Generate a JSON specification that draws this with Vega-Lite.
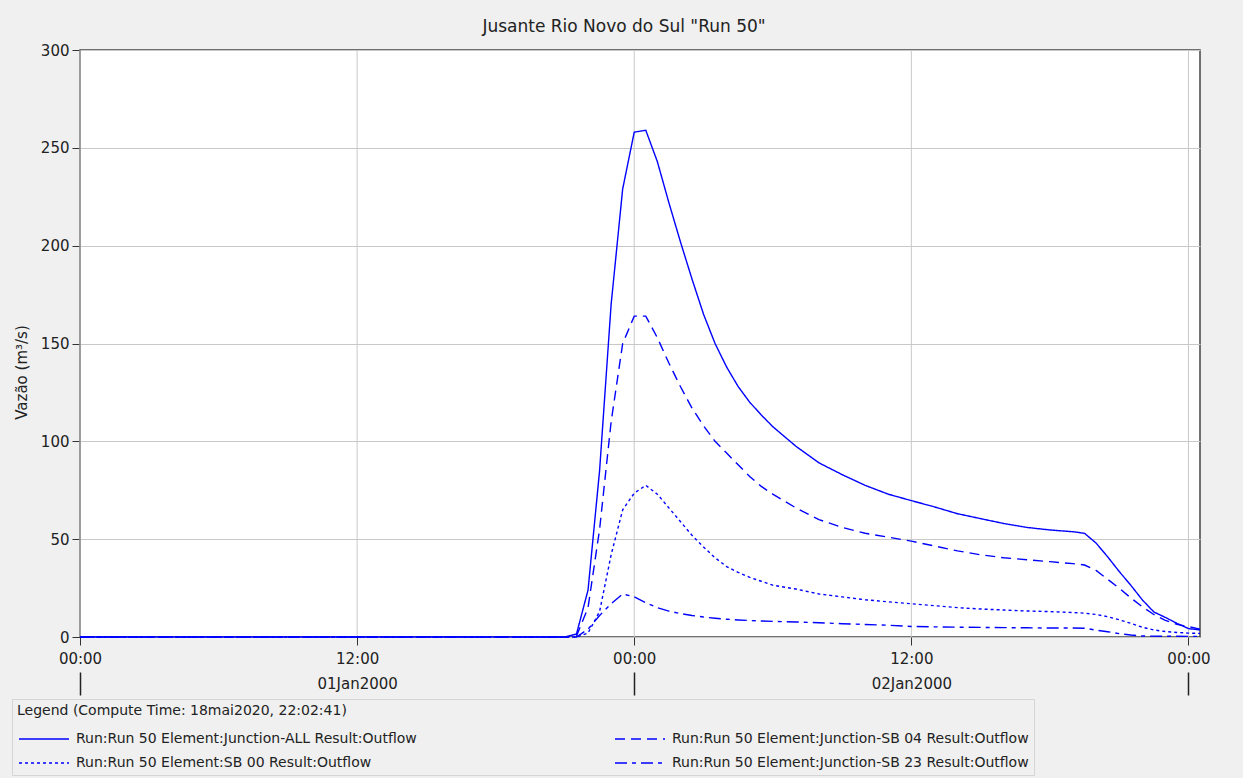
{
  "$schema": "https://vega.github.io/schema/vega-lite/v6.json",
  "width": 1120,
  "height": 587,
  "autosize": {"type": "none"},
  "padding": {"left": 80, "top": 50, "right": 43, "bottom": 141},
  "background": "#f0f0f0",
  "config": {
    "font": "DejaVu Sans",
    "view": {"fill": "white", "stroke": "#444", "strokeWidth": 1.5}
  },
  "title": {
    "text": "Jusante Rio Novo do Sul \"Run 50\"",
    "frame": "group",
    "anchor": "middle",
    "baseline": "alphabetic",
    "offset": 18,
    "dy": 24,
    "dx": -16,
    "font": "DejaVu Sans",
    "fontSize": 17,
    "fontWeight": "normal",
    "color": "#222"
  },
  "datasets": {
    "grid": [
      {"time": "2000-01-01T00:00:00Z"},
      {"time": "2000-01-01T12:00:00Z"},
      {"time": "2000-01-02T00:00:00Z"},
      {"time": "2000-01-02T12:00:00Z"},
      {"time": "2000-01-03T00:00:00Z"}
    ],
    "flow": [
      {"series": "Junction-ALL", "time": "2000-01-01T00:00:00Z", "flow": 0},
      {"series": "Junction-ALL", "time": "2000-01-01T21:00:00Z", "flow": 0},
      {"series": "Junction-ALL", "time": "2000-01-01T21:30:00Z", "flow": 1.5},
      {"series": "Junction-ALL", "time": "2000-01-01T22:00:00Z", "flow": 24},
      {"series": "Junction-ALL", "time": "2000-01-01T22:30:00Z", "flow": 85},
      {"series": "Junction-ALL", "time": "2000-01-01T23:00:00Z", "flow": 170},
      {"series": "Junction-ALL", "time": "2000-01-01T23:30:00Z", "flow": 229},
      {"series": "Junction-ALL", "time": "2000-01-02T00:00:00Z", "flow": 258},
      {"series": "Junction-ALL", "time": "2000-01-02T00:30:00Z", "flow": 259},
      {"series": "Junction-ALL", "time": "2000-01-02T01:00:00Z", "flow": 243},
      {"series": "Junction-ALL", "time": "2000-01-02T01:30:00Z", "flow": 222},
      {"series": "Junction-ALL", "time": "2000-01-02T02:00:00Z", "flow": 202},
      {"series": "Junction-ALL", "time": "2000-01-02T02:30:00Z", "flow": 183},
      {"series": "Junction-ALL", "time": "2000-01-02T03:00:00Z", "flow": 165},
      {"series": "Junction-ALL", "time": "2000-01-02T03:30:00Z", "flow": 150},
      {"series": "Junction-ALL", "time": "2000-01-02T04:00:00Z", "flow": 138},
      {"series": "Junction-ALL", "time": "2000-01-02T04:30:00Z", "flow": 128},
      {"series": "Junction-ALL", "time": "2000-01-02T05:00:00Z", "flow": 120},
      {"series": "Junction-ALL", "time": "2000-01-02T05:30:00Z", "flow": 113.5},
      {"series": "Junction-ALL", "time": "2000-01-02T06:00:00Z", "flow": 107.5},
      {"series": "Junction-ALL", "time": "2000-01-02T07:00:00Z", "flow": 97.5},
      {"series": "Junction-ALL", "time": "2000-01-02T08:00:00Z", "flow": 89},
      {"series": "Junction-ALL", "time": "2000-01-02T09:00:00Z", "flow": 83},
      {"series": "Junction-ALL", "time": "2000-01-02T10:00:00Z", "flow": 77.5},
      {"series": "Junction-ALL", "time": "2000-01-02T11:00:00Z", "flow": 73},
      {"series": "Junction-ALL", "time": "2000-01-02T12:00:00Z", "flow": 69.7},
      {"series": "Junction-ALL", "time": "2000-01-02T13:00:00Z", "flow": 66.5},
      {"series": "Junction-ALL", "time": "2000-01-02T14:00:00Z", "flow": 63},
      {"series": "Junction-ALL", "time": "2000-01-02T15:00:00Z", "flow": 60.5},
      {"series": "Junction-ALL", "time": "2000-01-02T16:00:00Z", "flow": 58},
      {"series": "Junction-ALL", "time": "2000-01-02T17:00:00Z", "flow": 56},
      {"series": "Junction-ALL", "time": "2000-01-02T18:00:00Z", "flow": 54.7},
      {"series": "Junction-ALL", "time": "2000-01-02T19:00:00Z", "flow": 53.8},
      {"series": "Junction-ALL", "time": "2000-01-02T19:30:00Z", "flow": 53},
      {"series": "Junction-ALL", "time": "2000-01-02T20:00:00Z", "flow": 48},
      {"series": "Junction-ALL", "time": "2000-01-02T20:30:00Z", "flow": 41},
      {"series": "Junction-ALL", "time": "2000-01-02T21:00:00Z", "flow": 33.5},
      {"series": "Junction-ALL", "time": "2000-01-02T21:30:00Z", "flow": 26.5},
      {"series": "Junction-ALL", "time": "2000-01-02T22:00:00Z", "flow": 19},
      {"series": "Junction-ALL", "time": "2000-01-02T22:30:00Z", "flow": 12.8},
      {"series": "Junction-ALL", "time": "2000-01-02T23:00:00Z", "flow": 10},
      {"series": "Junction-ALL", "time": "2000-01-02T23:30:00Z", "flow": 7},
      {"series": "Junction-ALL", "time": "2000-01-03T00:00:00Z", "flow": 4.3},
      {"series": "Junction-ALL", "time": "2000-01-03T00:30:00Z", "flow": 3.6},

      {"series": "Junction-SB 04", "time": "2000-01-01T00:00:00Z", "flow": 0},
      {"series": "Junction-SB 04", "time": "2000-01-01T21:00:00Z", "flow": 0},
      {"series": "Junction-SB 04", "time": "2000-01-01T21:30:00Z", "flow": 0.5},
      {"series": "Junction-SB 04", "time": "2000-01-01T22:00:00Z", "flow": 15},
      {"series": "Junction-SB 04", "time": "2000-01-01T22:30:00Z", "flow": 55},
      {"series": "Junction-SB 04", "time": "2000-01-01T23:00:00Z", "flow": 110},
      {"series": "Junction-SB 04", "time": "2000-01-01T23:30:00Z", "flow": 150},
      {"series": "Junction-SB 04", "time": "2000-01-02T00:00:00Z", "flow": 164},
      {"series": "Junction-SB 04", "time": "2000-01-02T00:30:00Z", "flow": 164},
      {"series": "Junction-SB 04", "time": "2000-01-02T01:00:00Z", "flow": 153},
      {"series": "Junction-SB 04", "time": "2000-01-02T01:30:00Z", "flow": 140},
      {"series": "Junction-SB 04", "time": "2000-01-02T02:00:00Z", "flow": 128},
      {"series": "Junction-SB 04", "time": "2000-01-02T02:30:00Z", "flow": 117},
      {"series": "Junction-SB 04", "time": "2000-01-02T03:00:00Z", "flow": 108},
      {"series": "Junction-SB 04", "time": "2000-01-02T03:30:00Z", "flow": 100},
      {"series": "Junction-SB 04", "time": "2000-01-02T04:00:00Z", "flow": 94},
      {"series": "Junction-SB 04", "time": "2000-01-02T04:30:00Z", "flow": 88},
      {"series": "Junction-SB 04", "time": "2000-01-02T05:00:00Z", "flow": 82},
      {"series": "Junction-SB 04", "time": "2000-01-02T05:30:00Z", "flow": 77},
      {"series": "Junction-SB 04", "time": "2000-01-02T06:00:00Z", "flow": 73},
      {"series": "Junction-SB 04", "time": "2000-01-02T07:00:00Z", "flow": 66},
      {"series": "Junction-SB 04", "time": "2000-01-02T08:00:00Z", "flow": 60},
      {"series": "Junction-SB 04", "time": "2000-01-02T09:00:00Z", "flow": 56},
      {"series": "Junction-SB 04", "time": "2000-01-02T10:00:00Z", "flow": 53},
      {"series": "Junction-SB 04", "time": "2000-01-02T11:00:00Z", "flow": 51},
      {"series": "Junction-SB 04", "time": "2000-01-02T12:00:00Z", "flow": 49},
      {"series": "Junction-SB 04", "time": "2000-01-02T13:00:00Z", "flow": 46.5},
      {"series": "Junction-SB 04", "time": "2000-01-02T14:00:00Z", "flow": 44},
      {"series": "Junction-SB 04", "time": "2000-01-02T15:00:00Z", "flow": 42},
      {"series": "Junction-SB 04", "time": "2000-01-02T16:00:00Z", "flow": 40.5},
      {"series": "Junction-SB 04", "time": "2000-01-02T17:00:00Z", "flow": 39.5},
      {"series": "Junction-SB 04", "time": "2000-01-02T18:00:00Z", "flow": 38.5},
      {"series": "Junction-SB 04", "time": "2000-01-02T19:00:00Z", "flow": 37.5},
      {"series": "Junction-SB 04", "time": "2000-01-02T19:30:00Z", "flow": 36.8},
      {"series": "Junction-SB 04", "time": "2000-01-02T20:00:00Z", "flow": 34},
      {"series": "Junction-SB 04", "time": "2000-01-02T20:30:00Z", "flow": 29.5},
      {"series": "Junction-SB 04", "time": "2000-01-02T21:00:00Z", "flow": 25},
      {"series": "Junction-SB 04", "time": "2000-01-02T21:30:00Z", "flow": 20},
      {"series": "Junction-SB 04", "time": "2000-01-02T22:00:00Z", "flow": 15.5},
      {"series": "Junction-SB 04", "time": "2000-01-02T22:30:00Z", "flow": 11.5},
      {"series": "Junction-SB 04", "time": "2000-01-02T23:00:00Z", "flow": 8.5},
      {"series": "Junction-SB 04", "time": "2000-01-02T23:30:00Z", "flow": 6.5},
      {"series": "Junction-SB 04", "time": "2000-01-03T00:00:00Z", "flow": 5.3},
      {"series": "Junction-SB 04", "time": "2000-01-03T00:30:00Z", "flow": 4},

      {"series": "SB 00", "time": "2000-01-01T00:00:00Z", "flow": 0},
      {"series": "SB 00", "time": "2000-01-01T21:30:00Z", "flow": 0},
      {"series": "SB 00", "time": "2000-01-01T22:00:00Z", "flow": 2},
      {"series": "SB 00", "time": "2000-01-01T22:30:00Z", "flow": 13},
      {"series": "SB 00", "time": "2000-01-01T23:00:00Z", "flow": 42},
      {"series": "SB 00", "time": "2000-01-01T23:30:00Z", "flow": 65},
      {"series": "SB 00", "time": "2000-01-02T00:00:00Z", "flow": 73.5},
      {"series": "SB 00", "time": "2000-01-02T00:30:00Z", "flow": 77.5},
      {"series": "SB 00", "time": "2000-01-02T01:00:00Z", "flow": 73},
      {"series": "SB 00", "time": "2000-01-02T01:30:00Z", "flow": 66},
      {"series": "SB 00", "time": "2000-01-02T02:00:00Z", "flow": 59},
      {"series": "SB 00", "time": "2000-01-02T02:30:00Z", "flow": 52},
      {"series": "SB 00", "time": "2000-01-02T03:00:00Z", "flow": 46},
      {"series": "SB 00", "time": "2000-01-02T03:30:00Z", "flow": 40.5},
      {"series": "SB 00", "time": "2000-01-02T04:00:00Z", "flow": 36},
      {"series": "SB 00", "time": "2000-01-02T04:30:00Z", "flow": 33},
      {"series": "SB 00", "time": "2000-01-02T05:00:00Z", "flow": 30.5},
      {"series": "SB 00", "time": "2000-01-02T05:30:00Z", "flow": 28.5},
      {"series": "SB 00", "time": "2000-01-02T06:00:00Z", "flow": 26.5},
      {"series": "SB 00", "time": "2000-01-02T07:00:00Z", "flow": 24.5},
      {"series": "SB 00", "time": "2000-01-02T08:00:00Z", "flow": 22},
      {"series": "SB 00", "time": "2000-01-02T09:00:00Z", "flow": 20.5},
      {"series": "SB 00", "time": "2000-01-02T10:00:00Z", "flow": 19},
      {"series": "SB 00", "time": "2000-01-02T11:00:00Z", "flow": 18},
      {"series": "SB 00", "time": "2000-01-02T12:00:00Z", "flow": 17},
      {"series": "SB 00", "time": "2000-01-02T13:00:00Z", "flow": 16},
      {"series": "SB 00", "time": "2000-01-02T14:00:00Z", "flow": 15},
      {"series": "SB 00", "time": "2000-01-02T15:00:00Z", "flow": 14.3},
      {"series": "SB 00", "time": "2000-01-02T16:00:00Z", "flow": 13.8},
      {"series": "SB 00", "time": "2000-01-02T17:00:00Z", "flow": 13.3},
      {"series": "SB 00", "time": "2000-01-02T18:00:00Z", "flow": 13},
      {"series": "SB 00", "time": "2000-01-02T19:00:00Z", "flow": 12.5},
      {"series": "SB 00", "time": "2000-01-02T19:30:00Z", "flow": 12.2},
      {"series": "SB 00", "time": "2000-01-02T20:00:00Z", "flow": 11.5},
      {"series": "SB 00", "time": "2000-01-02T20:30:00Z", "flow": 10.4},
      {"series": "SB 00", "time": "2000-01-02T21:00:00Z", "flow": 8.8},
      {"series": "SB 00", "time": "2000-01-02T21:30:00Z", "flow": 7},
      {"series": "SB 00", "time": "2000-01-02T22:00:00Z", "flow": 5},
      {"series": "SB 00", "time": "2000-01-02T22:30:00Z", "flow": 3.6},
      {"series": "SB 00", "time": "2000-01-02T23:00:00Z", "flow": 2.8},
      {"series": "SB 00", "time": "2000-01-02T23:30:00Z", "flow": 2.3},
      {"series": "SB 00", "time": "2000-01-03T00:00:00Z", "flow": 2},
      {"series": "SB 00", "time": "2000-01-03T00:30:00Z", "flow": 1.8},

      {"series": "Junction-SB 23", "time": "2000-01-01T00:00:00Z", "flow": 0},
      {"series": "Junction-SB 23", "time": "2000-01-01T21:30:00Z", "flow": 0},
      {"series": "Junction-SB 23", "time": "2000-01-01T22:00:00Z", "flow": 4},
      {"series": "Junction-SB 23", "time": "2000-01-01T22:30:00Z", "flow": 11},
      {"series": "Junction-SB 23", "time": "2000-01-01T23:00:00Z", "flow": 17},
      {"series": "Junction-SB 23", "time": "2000-01-01T23:30:00Z", "flow": 22},
      {"series": "Junction-SB 23", "time": "2000-01-02T00:00:00Z", "flow": 20.5},
      {"series": "Junction-SB 23", "time": "2000-01-02T00:30:00Z", "flow": 17.5},
      {"series": "Junction-SB 23", "time": "2000-01-02T01:00:00Z", "flow": 15},
      {"series": "Junction-SB 23", "time": "2000-01-02T01:30:00Z", "flow": 13.2},
      {"series": "Junction-SB 23", "time": "2000-01-02T02:00:00Z", "flow": 12},
      {"series": "Junction-SB 23", "time": "2000-01-02T02:30:00Z", "flow": 11},
      {"series": "Junction-SB 23", "time": "2000-01-02T03:00:00Z", "flow": 10.2},
      {"series": "Junction-SB 23", "time": "2000-01-02T03:30:00Z", "flow": 9.6},
      {"series": "Junction-SB 23", "time": "2000-01-02T04:00:00Z", "flow": 9.1},
      {"series": "Junction-SB 23", "time": "2000-01-02T04:30:00Z", "flow": 8.7},
      {"series": "Junction-SB 23", "time": "2000-01-02T05:00:00Z", "flow": 8.4},
      {"series": "Junction-SB 23", "time": "2000-01-02T06:00:00Z", "flow": 8},
      {"series": "Junction-SB 23", "time": "2000-01-02T07:00:00Z", "flow": 7.7},
      {"series": "Junction-SB 23", "time": "2000-01-02T08:00:00Z", "flow": 7.3},
      {"series": "Junction-SB 23", "time": "2000-01-02T09:00:00Z", "flow": 6.8},
      {"series": "Junction-SB 23", "time": "2000-01-02T10:00:00Z", "flow": 6.4},
      {"series": "Junction-SB 23", "time": "2000-01-02T11:00:00Z", "flow": 6},
      {"series": "Junction-SB 23", "time": "2000-01-02T12:00:00Z", "flow": 5.4},
      {"series": "Junction-SB 23", "time": "2000-01-02T13:00:00Z", "flow": 5.2},
      {"series": "Junction-SB 23", "time": "2000-01-02T14:00:00Z", "flow": 5},
      {"series": "Junction-SB 23", "time": "2000-01-02T15:00:00Z", "flow": 4.9},
      {"series": "Junction-SB 23", "time": "2000-01-02T16:00:00Z", "flow": 4.8},
      {"series": "Junction-SB 23", "time": "2000-01-02T17:00:00Z", "flow": 4.7},
      {"series": "Junction-SB 23", "time": "2000-01-02T18:00:00Z", "flow": 4.6},
      {"series": "Junction-SB 23", "time": "2000-01-02T19:00:00Z", "flow": 4.6},
      {"series": "Junction-SB 23", "time": "2000-01-02T19:30:00Z", "flow": 4.5},
      {"series": "Junction-SB 23", "time": "2000-01-02T20:00:00Z", "flow": 3.5},
      {"series": "Junction-SB 23", "time": "2000-01-02T20:30:00Z", "flow": 2.7},
      {"series": "Junction-SB 23", "time": "2000-01-02T21:00:00Z", "flow": 1.7},
      {"series": "Junction-SB 23", "time": "2000-01-02T21:30:00Z", "flow": 1},
      {"series": "Junction-SB 23", "time": "2000-01-02T22:00:00Z", "flow": 0.5},
      {"series": "Junction-SB 23", "time": "2000-01-02T23:00:00Z", "flow": 0.4},
      {"series": "Junction-SB 23", "time": "2000-01-03T00:00:00Z", "flow": 0.3},
      {"series": "Junction-SB 23", "time": "2000-01-03T00:30:00Z", "flow": 0.3}
    ]
  },
  "layer": [
    {
      "data": {"name": "grid"},
      "mark": {"type": "rule", "color": "#c8c8c8", "strokeWidth": 1},
      "encoding": {
        "x": {
          "field": "time",
          "type": "temporal",
          "scale": {
            "type": "utc",
            "domain": [
              {"year": 2000, "month": 1, "date": 1, "hours": 0, "minutes": 0, "utc": true},
              {"year": 2000, "month": 1, "date": 3, "hours": 0, "minutes": 30, "utc": true}
            ]
          },
          "axis": {
            "orient": "bottom",
            "offset": 35,
            "title": null,
            "domain": false,
            "grid": false,
            "values": [
              {"year": 2000, "month": 1, "date": 1, "hours": 0, "utc": true},
              {"year": 2000, "month": 1, "date": 1, "hours": 12, "utc": true},
              {"year": 2000, "month": 1, "date": 2, "hours": 0, "utc": true},
              {"year": 2000, "month": 1, "date": 2, "hours": 12, "utc": true},
              {"year": 2000, "month": 1, "date": 3, "hours": 0, "utc": true}
            ],
            "tickSize": 23,
            "tickWidth": 1.5,
            "tickColor": "#222",
            "tickOpacity": {"condition": {"test": "utchours(datum.value) == 0", "value": 1}, "value": 0},
            "labelExpr": "utchours(datum.value) == 12 ? utcFormat(datum.value, '%d%b%Y') : ''",
            "labelPadding": -19,
            "labelFont": "DejaVu Sans",
            "labelFontSize": 15,
            "labelColor": "#222",
            "labelFlush": false,
            "labelOverlap": false,
            "labelBound": false
          }
        }
      }
    },
    {
      "data": {"name": "flow"},
      "mark": {"type": "line", "color": "#0000ff", "strokeWidth": 1.4},
      "encoding": {
        "x": {
          "field": "time",
          "type": "temporal",
          "scale": {
            "type": "utc",
            "domain": [
              {"year": 2000, "month": 1, "date": 1, "hours": 0, "minutes": 0, "utc": true},
              {"year": 2000, "month": 1, "date": 3, "hours": 0, "minutes": 30, "utc": true}
            ]
          },
          "axis": {
            "orient": "bottom",
            "title": null,
            "domain": false,
            "grid": false,
            "values": [
              {"year": 2000, "month": 1, "date": 1, "hours": 0, "utc": true},
              {"year": 2000, "month": 1, "date": 1, "hours": 12, "utc": true},
              {"year": 2000, "month": 1, "date": 2, "hours": 0, "utc": true},
              {"year": 2000, "month": 1, "date": 2, "hours": 12, "utc": true},
              {"year": 2000, "month": 1, "date": 3, "hours": 0, "utc": true}
            ],
            "tickSize": 8,
            "tickColor": "#333",
            "labelExpr": "utcFormat(datum.value, '%H:%M')",
            "labelPadding": 6,
            "labelFont": "DejaVu Sans",
            "labelFontSize": 15,
            "labelColor": "#222",
            "labelFlush": false,
            "labelOverlap": false,
            "labelBound": false
          }
        },
        "y": {
          "field": "flow",
          "type": "quantitative",
          "scale": {"domain": [0, 300], "nice": false},
          "axis": {
            "title": "Vazão (m³/s)",
            "values": [0, 50, 100, 150, 200, 250, 300],
            "grid": true,
            "gridColor": "#c8c8c8",
            "gridWidth": 1,
            "domain": false,
            "tickSize": 8,
            "tickColor": "#333",
            "labelPadding": 3,
            "labelFont": "DejaVu Sans",
            "labelFontSize": 15,
            "labelColor": "#222",
            "titleFont": "DejaVu Sans",
            "titleFontSize": 15,
            "titleFontWeight": "normal",
            "titleColor": "#222",
            "titleAngle": -90,
            "titleX": -59,
            "titleY": 322,
            "titleAlign": "center",
            "titleBaseline": "middle"
          }
        },
        "strokeDash": {
          "field": "series",
          "type": "nominal",
          "scale": {
            "domain": ["Junction-ALL", "Junction-SB 04", "SB 00", "Junction-SB 23"],
            "range": [[1, 0], [10, 6], [3, 3], [12, 5, 4, 5]]
          },
          "legend": {
            "title": "Legend (Compute Time: 18mai2020, 22:02:41)",
            "orient": "none",
            "legendX": -68,
            "legendY": 649,
            "direction": "horizontal",
            "columns": 2,
            "symbolType": "M-5,0H5",
            "symbolSize": 100,
            "symbolOffset": 20,
            "symbolStrokeWidth": 1.5,
            "symbolStrokeColor": "#0000ff",
            "labelExpr": "'Run:Run 50 Element:' + datum.label + ' Result:Outflow'",
            "labelFont": "DejaVu Sans",
            "labelFontSize": 14,
            "labelColor": "#222",
            "labelLimit": 600,
            "labelOffset": 25,
            "titleFont": "DejaVu Sans",
            "titleFontSize": 14,
            "titleFontWeight": "normal",
            "titleColor": "#222",
            "titleLimit": 800,
            "titlePadding": 14,
            "rowPadding": 10,
            "columnPadding": 195,
            "padding": 5,
            "strokeColor": "#d5d5d5"
          }
        }
      }
    }
  ],
  "resolve": {"scale": {"x": "independent"}, "axis": {"x": "independent"}}
}
